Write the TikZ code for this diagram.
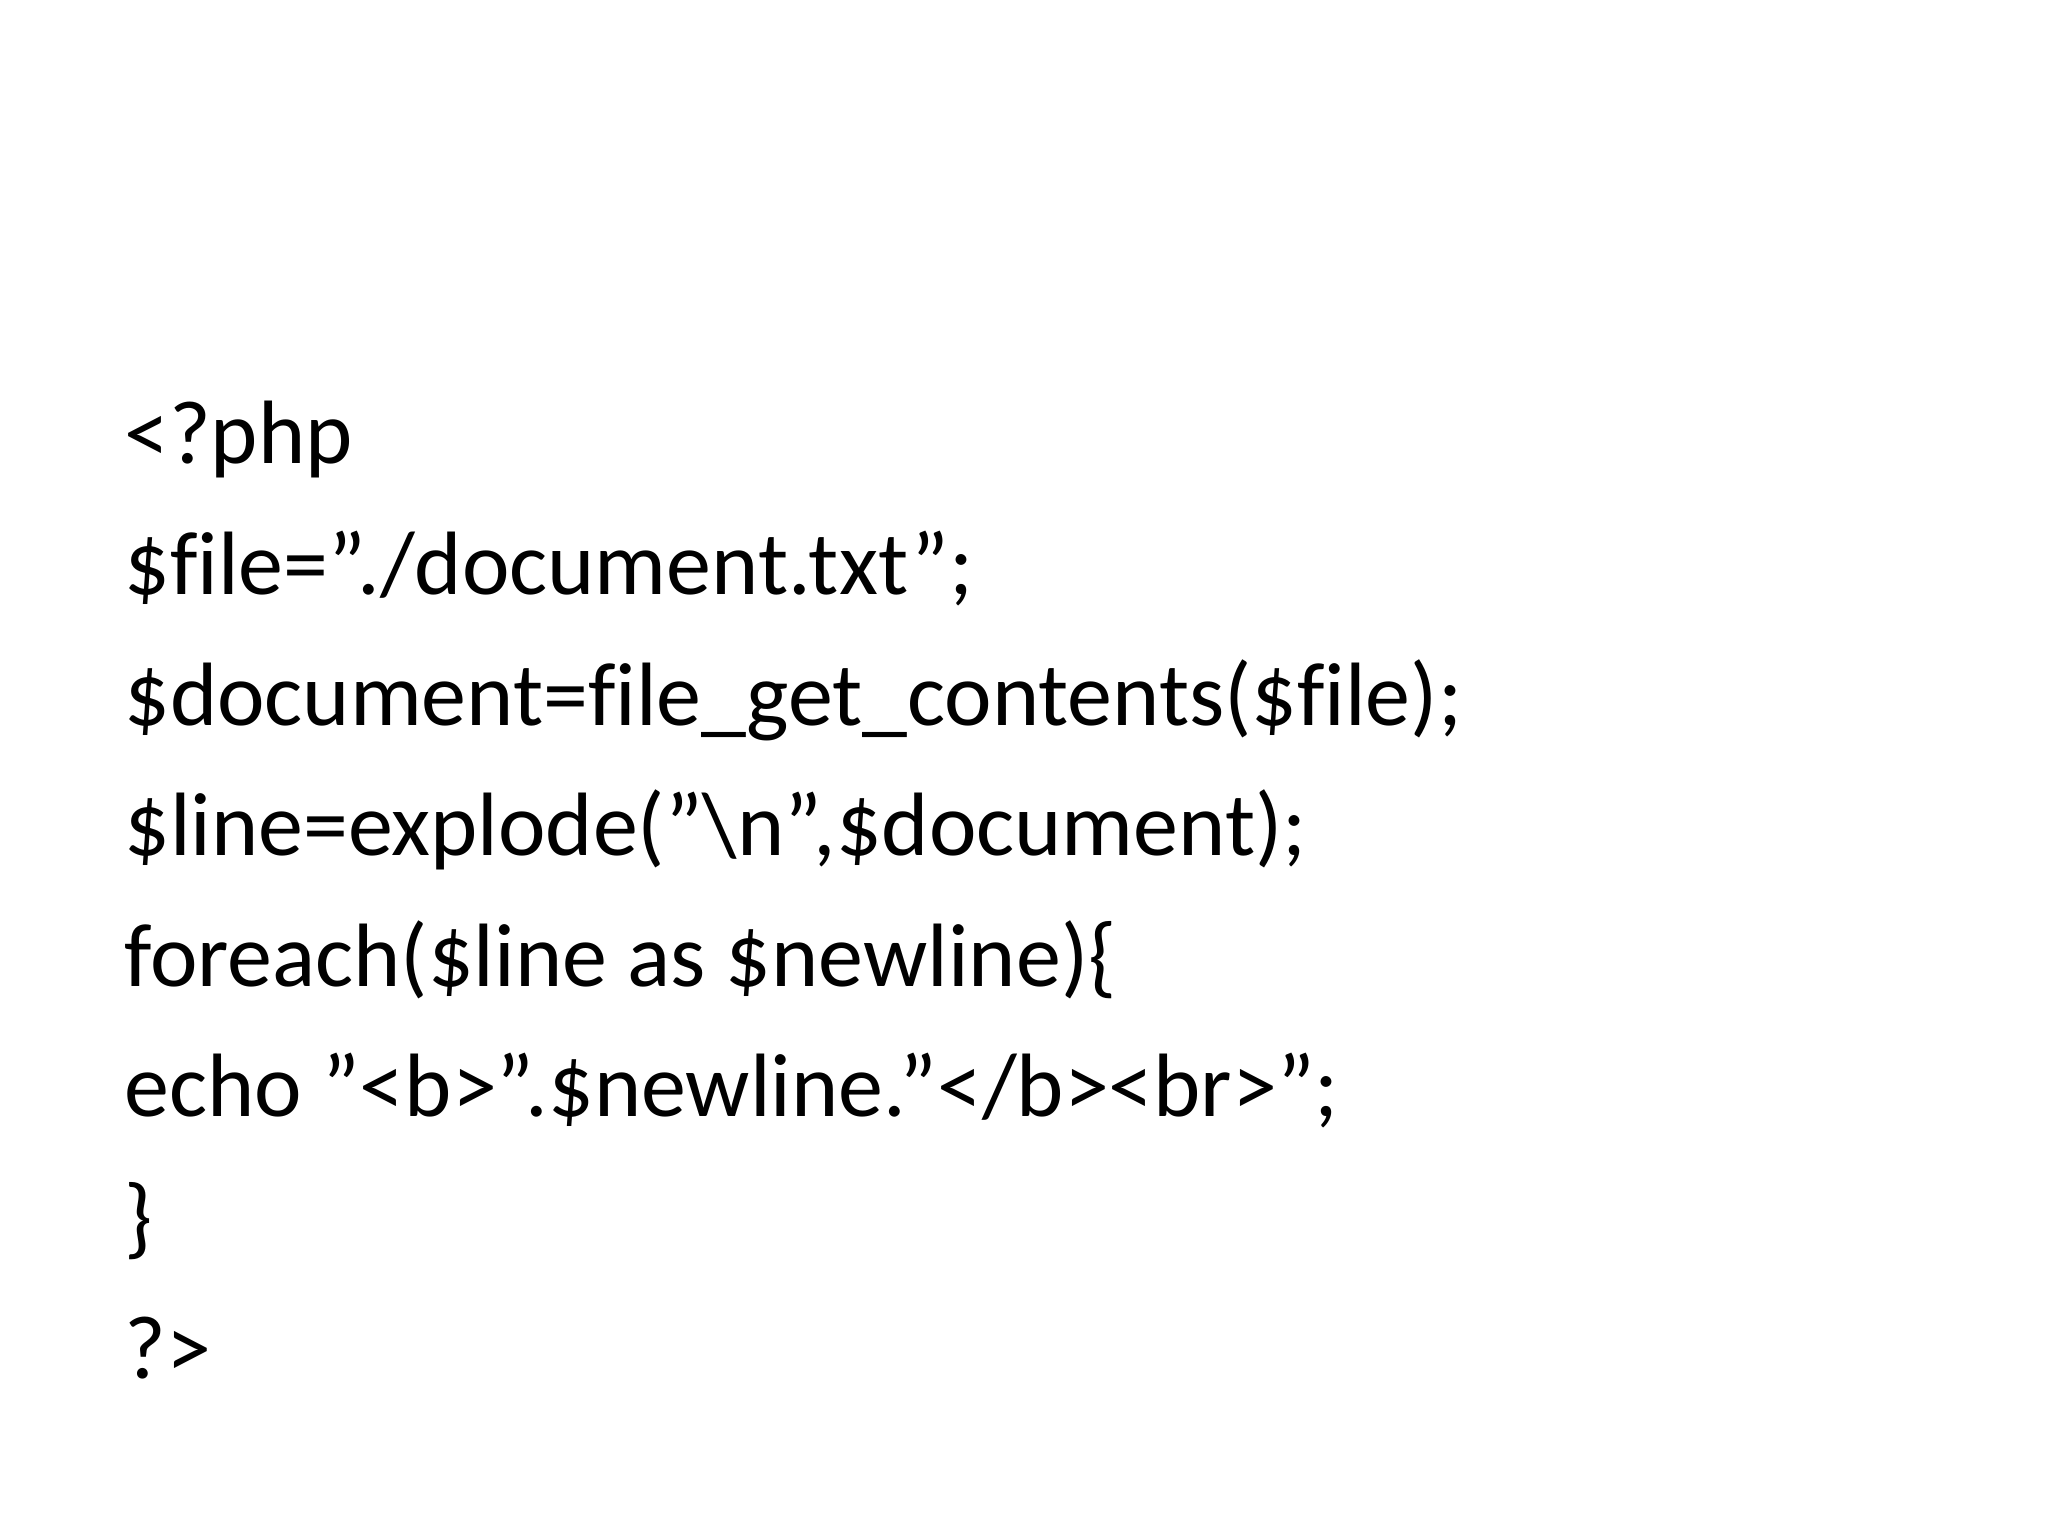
\documentclass[tikz,border=0pt]{standalone}
\usepackage{fontspec}
\defaultfontfeatures{}
\setmainfont[Ligatures=NoCommon]{Carlito}
\begin{document}
\begin{tikzpicture}[x=1pt,y=1pt,code/.style={anchor=base west,inner sep=0pt,font=\fontsize{45}{54}\selectfont}]
\useasboundingbox[fill=white] (0,0) rectangle (1024,768);
\node[code] (l1) at (62,768-232) {<?php};
\node[code] (l2) at (62,768-297.3) {\$file="./document.txt";};
\node[code] (l3) at (62,768-362.6) {\$document=file\_get\_contents(\$file);};
\node[code] (l4) at (62,768-427.9) {\$line=explode("\textbackslash n",\$document);};
\node[code] (l5) at (62,768-493.2) {foreach(\$line as \$newline)\{};
\node[code] (l6) at (62,768-558.5) {echo "<b>".\$newline."</b><br>";};
\node[code] (l7) at (62,768-623.8) {\}};
\node[code] (l8) at (62,768-689.1) {?>};
\end{tikzpicture}
\end{document}
